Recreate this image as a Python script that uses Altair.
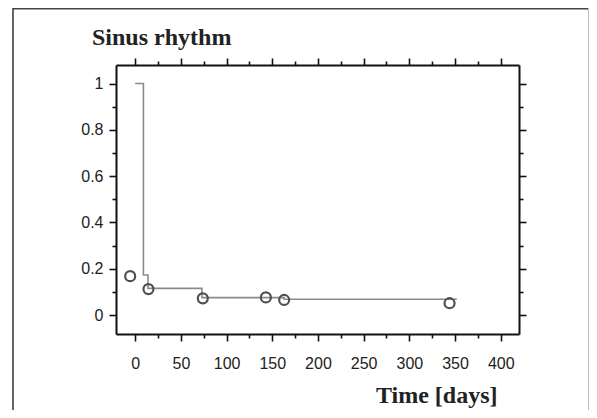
import altair as alt
import pandas as pd

# Kaplan-Meier style step curve
step_days = [0, 9, 14, 73, 163, 352]
step_surv = [1.0, 0.173, 0.115, 0.075, 0.068, 0.068]

# censoring marks (open circles)
censor_days = [-5.5, 14.5, 74, 143, 163, 344]
censor_surv = [0.168, 0.112, 0.072, 0.076, 0.065, 0.051]

x_ticks = list(range(0, 401, 25))
y_ticks = [round(i / 10, 1) for i in range(0, 11)]

title_text = ["Sinus rhythm"]
x_title = "Time [days]"

step_df = pd.DataFrame({"day": step_days, "surv": step_surv})
cens_df = pd.DataFrame({"day": censor_days, "surv": censor_surv})
title_df = pd.DataFrame({"t": title_text})

xscale = alt.Scale(domain=[-21, 420], nice=False, zero=False)
yscale = alt.Scale(domain=[-0.082, 1.08], nice=False, zero=False)

axis_common = dict(
    domainColor="#111", domainWidth=2, tickColor="#111", tickWidth=1.6,
    grid=False, labelFont="Liberation Sans", labelFontSize=16, labelColor="#222",
)

x_tick_size = {"condition": {"test": "datum.value % 50 != 0", "value": 4}, "value": 7}
y_tick_size = {"condition": {"test": "round(datum.value * 10) % 2 != 0", "value": 4}, "value": 7}

x_bottom = alt.Axis(
    orient="bottom", values=x_ticks, tickSize=x_tick_size,
    labelExpr="datum.value % 50 == 0 ? datum.label : ''",
    labelPadding=14, labelAngle=0,
    title=x_title, titleFont="Liberation Serif", titleFontSize=24, titleFontWeight="bold",
    titleColor="#222", titleX=381, titleY=68, titleAlign="right", titleBaseline="alphabetic",
    **axis_common,
)
y_left = alt.Axis(
    orient="left", values=y_ticks, tickSize=y_tick_size,
    labelExpr="round(datum.value * 10) % 2 == 0 ? toString(round(datum.value * 10) / 10) : ''",
    labelPadding=6, labelBaseline="middle", title=None,
    **axis_common,
)
x_top = alt.Axis(orient="top", values=x_ticks, tickSize=x_tick_size, labels=False, title=None, **axis_common)
y_right = alt.Axis(orient="right", values=y_ticks, tickSize=y_tick_size, labels=False, title=None, **axis_common)

line = alt.Chart(step_df).mark_line(interpolate="step-after", color="#8a8a8a", strokeWidth=1.6).encode(
    x=alt.X("day:Q", scale=xscale, axis=x_bottom),
    y=alt.Y("surv:Q", scale=yscale, axis=y_left),
)

circles = alt.Chart(cens_df).mark_point(
    shape="circle", filled=False, size=100, color="#505050", strokeWidth=2.2, opacity=1
).encode(
    x=alt.X("day:Q", scale=xscale, axis=x_top),
    y=alt.Y("surv:Q", scale=yscale, axis=y_right),
)

title = alt.Chart(title_df).mark_text(
    font="Liberation Serif", fontSize=24, fontWeight="bold", color="#222",
    align="left", baseline="alphabetic",
).encode(text="t:N", x=alt.value(-24), y=alt.value(-20))

frame_df = pd.DataFrame({"k": [0]})
frame_top = alt.Chart(frame_df).mark_rule(color="#444", strokeWidth=1.5).encode(
    x=alt.value(-103), x2=alt.value(473), y=alt.value(-56.2)
)
frame_left = alt.Chart(frame_df).mark_rule(color="#333", strokeWidth=1.5).encode(
    x=alt.value(-103), y=alt.value(-57), y2=alt.value(400)
)
frame_right = alt.Chart(frame_df).mark_rule(color="#bbb", strokeWidth=1).encode(
    x=alt.value(472.5), y=alt.value(-57), y2=alt.value(400)
)

chart = alt.layer(line, circles, title, frame_top, frame_left, frame_right).resolve_axis(
    x="independent", y="independent"
).properties(
    width=403,
    height=269,
    padding={"left": 108, "top": 57, "right": 70, "bottom": 76},
    autosize=alt.AutoSizeParams(type="none"),
).configure_view(stroke=None)

chart.save("out.html", embed_options={"renderer": "svg", "actions": False})
